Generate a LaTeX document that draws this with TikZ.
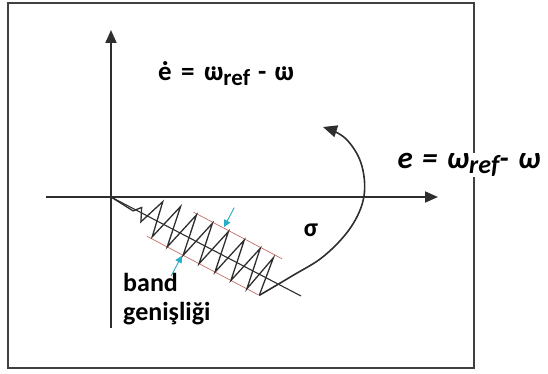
\documentclass[tikz,border=0pt]{standalone}
\usepackage{fontspec}
\setmainfont{Carlito}
\usetikzlibrary{arrows.meta}
\definecolor{axisgray}{rgb}{0.18,0.18,0.18}
\definecolor{framegray}{rgb}{0.25,0.25,0.25}
\definecolor{bandred}{rgb}{0.78,0.42,0.42}
\definecolor{bandcyan}{rgb}{0.15,0.68,0.78}
\newcommand\dotted[1]{\ooalign{#1\cr\hidewidth\raisebox{0.40em}{.}\hidewidth\cr}}
\tikzset{
  axisline/.style={draw=axisgray, line width=1.8pt, -{Triangle[length=13pt,width=11pt]}},
  framebox/.style={draw=framegray, line width=1.7pt},
  bandline/.style={draw=bandred, line width=0.7pt},
  zigline/.style={draw=axisgray, line width=1.3pt, line join=miter},
  widtharrow/.style={draw=bandcyan, line width=0.9pt, -{Triangle[length=7pt,width=7pt]}},
  traj/.style={draw=axisgray, line width=1.6pt, -{Triangle[length=14pt,width=12pt]}},
  lbl/.style={font=\fontsize{27}{32}\selectfont\bfseries, text=black, inner sep=1pt},
}
\begin{document}
\begin{tikzpicture}[x=1pt, y=-1pt]
\useasboundingbox (0,0) rectangle (548,374);
% frame
\draw[framebox] (8,3) rectangle (474,368);
% axes
\coordinate (O) at (111,197);
\coordinate (xs) at (46,197);
\coordinate (xe) at (438,197);
\coordinate (ys) at (111,328);
\coordinate (ye) at (111,30);
\draw[axisline] (xs) -- (xe);
\draw[axisline] (ys) -- (ye);
% sliding line, band and chattering zigzag
\coordinate (E) at (301,296);
\draw[zigline, line width=1.1pt] (O) -- (E);
\begin{scope}[shift={(O)}, rotate=-27.76]
  \draw[bandline] (80,-25) -- (180,-25);
  \draw[bandline] (50,18) -- (176,18);
  \draw[zigline] (0,0) -- (26,2) -- (32,-5) -- (38,8)
     -- (48,-20) -- (55,16) -- (66,-24) -- (73,18) -- (84,-24) -- (91,18)
     -- (102,-24) -- (109,18) -- (120,-24) -- (127,18) -- (138,-24) -- (145,18)
     -- (156,-24) -- (163,18) -- (172,-22) -- (177,18) coordinate (Z);
  \coordinate (ua) at (114,-48);
  \coordinate (ub) at (114,-26);
  \coordinate (la) at (90,42);
  \coordinate (lb) at (90,19);
  \draw[widtharrow] (ua) -- (ub);
  \draw[widtharrow] (la) -- (lb);
\end{scope}
% trajectory
\draw[traj] plot[smooth, tension=0.6] coordinates {(Z) (292,276) (324,256) (351,227) (364,196) (361,163) (345,138) (323,127)};
% labels
\node[lbl] (edot) at (226,74) {\.{e}\hspace{0.35em}=\hspace{0.35em}\dotted{ω}\raisebox{-0.18em}{\fontsize{23}{26}\selectfont ref}\hspace{0.3em}-\hspace{0.3em}\dotted{ω}};
\node[lbl, fill=white, font=\fontsize{31}{34}\selectfont\bfseries\itshape] (elab) at (469,165) {e\hspace{0.3em}=\hspace{0.3em}ω\raisebox{-0.15em}{\fontsize{26}{28}\selectfont ref}-\hspace{0.3em}ω};
\node[lbl, font=\fontsize{26}{30}\selectfont\bfseries] (sig) at (311,230) {σ};
\node[lbl, align=left, anchor=north west, font=\fontsize{26}{29}\selectfont\bfseries] (band) at (122,272) {band\\genişliği};
\end{tikzpicture}
\end{document}
